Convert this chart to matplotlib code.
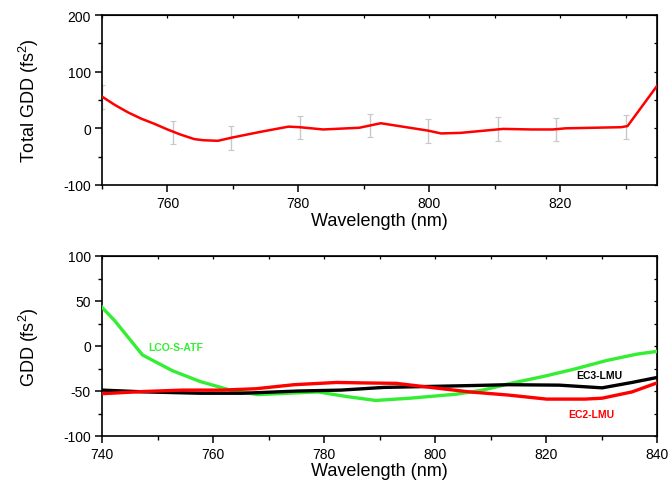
import matplotlib
matplotlib.use("Agg")
import matplotlib.pyplot as plt
from matplotlib.ticker import MultipleLocator

plt.rcParams['font.family'] = ['Liberation Sans', 'DejaVu Sans']
plt.rcParams['axes.unicode_minus'] = False
plt.rcParams['mathtext.fontset'] = 'custom'
plt.rcParams['mathtext.rm'] = 'Liberation Sans'
plt.rcParams['mathtext.it'] = 'Liberation Sans:italic'
plt.rcParams['mathtext.bf'] = 'Liberation Sans:bold'

# Top panel: total GDD
tot_wl = [750, 752, 754, 756, 758, 760, 762, 764.1, 765.5, 767.7, 770, 774.3, 778.5, 780.2, 783.8, 789.3,
          792.6, 799.8, 801.8, 804.8, 811.3, 815.6, 818.9, 820.8, 829.3, 830.3, 835]
tot_gdd = [56, 41, 28, 17, 8, -2, -11, -19, -21, -22, -16, -6, 3, 2, -2, 1,
           9, -4, -9, -8, -1, -2, -2, 0, 2, 4, 78]
err_wl = [750, 760.8, 769.7, 780.3, 791, 799.8, 810.5, 819.4, 830.1]
err_gdd = [56, -7.5, -17, 1.5, 5.5, -4.5, -1, -2.5, 2.5]
err_size = [21, 20.5, 20.5, 20.5, 20.5, 20.5, 20.5, 20.5, 20.5]

# Bottom panel: mirror GDD
lco_wl = [740, 742.3, 747.3, 752.7, 757.7, 763.1, 768.1, 778.9, 783.9, 789.3, 795.5,
          803.9, 808.6, 814, 819.4, 824.9, 831, 836.4, 840]
lco_gdd = [43, 28, -10, -27.5, -39.5, -49, -54, -51, -56, -60.5, -58,
           -53.5, -49, -41, -34, -26, -16, -9, -6]
ec3_wl = [740, 747.7, 757.7, 765.4, 775.4, 783.1, 790.8, 798.5, 806.2, 813.2, 822.4, 830.1, 835.5, 840]
ec3_gdd = [-49, -51, -52.5, -52.5, -50, -49, -46, -45, -44, -43, -43.5, -46.5, -40.5, -35]
ec2_wl = [740, 747.7, 754.6, 761.6, 767.7, 774.6, 782.3, 786.9, 793, 799.2, 806.2,
          813.2, 820.1, 827, 830.1, 835.5, 840]
ec2_gdd = [-53, -50.5, -49, -49, -47.5, -43, -40.5, -41, -41.5, -46, -51,
           -54.5, -59, -59, -58, -51, -41]

labels = ["LCO-S-ATF", "EC3-LMU", "EC2-LMU"]

fig = plt.figure(figsize=(6.69, 4.89), dpi=100)
ax1 = fig.add_axes([102/669, 1-186/489, (657-102)/669, (186-16)/489])
ax2 = fig.add_axes([102/669, 1-437/489, (657-102)/669, (437-257)/489])

def style(ax):
    for s in ax.spines.values():
        s.set_linewidth(1.2)
    ax.tick_params(which='major', direction='out', length=5, width=1.1, labelsize=10,
                   top=False, right=False, pad=3)
    ax.tick_params(which='minor', direction='out', length=3, width=1.0, top=False, right=False)
    ax2_ = ax.secondary_xaxis('top')
    ax2_.tick_params(which='both', direction='in', length=2.5, width=0.9, labeltop=False)
    ax2_.set_xticklabels([])
    ax3_ = ax.secondary_yaxis('right')
    ax3_.tick_params(which='both', direction='in', length=2.5, width=0.9, labelright=False)
    ax3_.set_yticklabels([])
    return ax2_, ax3_

# top panel
ax1.errorbar(err_wl, err_gdd, yerr=err_size, fmt='none', ecolor='#c8c8c8',
             elinewidth=1.0, capsize=2, capthick=0.8, zorder=2)
ax1.plot(tot_wl, tot_gdd, color='#ff0000', lw=1.8, zorder=3)
ax1.set_xlim(750, 834.8)
ax1.set_ylim(-100, 200)
ax1.xaxis.set_major_locator(MultipleLocator(20))
ax1.xaxis.set_minor_locator(MultipleLocator(10))
ax1.yaxis.set_major_locator(MultipleLocator(100))
ax1.yaxis.set_minor_locator(MultipleLocator(50))
s1, s2 = style(ax1)
s1.xaxis.set_major_locator(MultipleLocator(10))
s2.yaxis.set_major_locator(MultipleLocator(50))
ax1.set_xlabel('Wavelength (nm)', fontsize=13, labelpad=1)
ax1.set_ylabel('Total GDD (fs$^2$)', fontsize=13, labelpad=16)

# bottom panel
ax2.plot(lco_wl, lco_gdd, color='#33ee33', lw=2.4, zorder=3)
ax2.plot(ec3_wl, ec3_gdd, color='#000000', lw=2.4, zorder=3)
ax2.plot(ec2_wl, ec2_gdd, color='#ff0000', lw=2.4, zorder=4)
ax2.set_xlim(740, 840)
ax2.set_ylim(-100, 100)
ax2.xaxis.set_major_locator(MultipleLocator(20))
ax2.xaxis.set_minor_locator(MultipleLocator(10))
ax2.yaxis.set_major_locator(MultipleLocator(50))
ax2.yaxis.set_minor_locator(MultipleLocator(25))
t1, t2 = style(ax2)
t1.xaxis.set_major_locator(MultipleLocator(10))
t2.yaxis.set_major_locator(MultipleLocator(25))
ax2.set_xlabel('Wavelength (nm)', fontsize=13, labelpad=1)
ax2.set_ylabel('GDD (fs$^2$)', fontsize=13, labelpad=16)

ax2.text(748.3, -1, labels[0], color='#33ee33', fontsize=7.5, fontweight='bold', va='center', ha='left')
ax2.text(825.5, -32, labels[1], color='#000000', fontsize=7.5, fontweight='bold', va='center', ha='left')
ax2.text(824, -75.6, labels[2], color='#ff0000', fontsize=7.5, fontweight='bold', va='center', ha='left')

fig.savefig('out.png', dpi=100)
